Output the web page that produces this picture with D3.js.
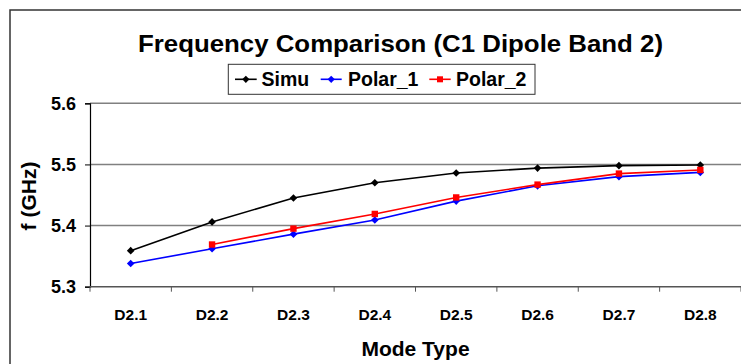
<!DOCTYPE html>
<html>
<head>
<meta charset="utf-8">
<script src="https://cdn.jsdelivr.net/npm/d3@7"></script>
<style>
  html, body { margin: 0; padding: 0; background: #fff; }
  svg { display: block; font-family: "Liberation Sans", Arial, sans-serif; font-weight: bold; }
</style>
</head>
<body>
<script>
// Mode categories along the x axis
const categories = ["D2.1", "D2.2", "D2.3", "D2.4", "D2.5", "D2.6", "D2.7", "D2.8"];
// Resonant frequencies (GHz) per mode
const simu    = [5.359, 5.406, 5.445, 5.470, 5.486, 5.494, 5.498, 5.499];
const polar1  = [5.338, 5.362, 5.386, 5.409, 5.440, 5.465, 5.480, 5.487];
const polar2  = [null,  5.369, 5.395, 5.419, 5.446, 5.467, 5.485, 5.491];
const yTicks  = [5.3, 5.4, 5.5, 5.6];
const seriesNames = ["Simu", "Polar_1", "Polar_2"];

const W = 741, H = 364;
const svg = d3.select("body").append("svg").attr("width", W).attr("height", H);

// chart frame
svg.append("rect").attr("x", 10).attr("y", 10).attr("width", 800).attr("height", 400)
  .attr("fill", "#fff").attr("stroke", "#333").attr("stroke-width", 1.5);

const plot = { left: 90, right: 741, top: 103.3, bottom: 286.7 };

const x = d3.scaleBand().domain(categories).range([plot.left, plot.right]).padding(0);
const y = d3.scaleLinear().domain([5.3, 5.6]).range([plot.bottom, plot.top]);

// horizontal gridlines
svg.append("g").selectAll("line").data(yTicks.filter(v => v > 5.3)).join("line")
  .attr("x1", plot.left).attr("x2", plot.right + 2)
  .attr("y1", d => y(d)).attr("y2", d => y(d))
  .attr("stroke", "#808080").attr("stroke-width", 1.5);

// y axis
const yAxis = d3.axisLeft(y).tickValues(yTicks).tickFormat(d3.format(".1f")).tickSize(5).tickPadding(9);
const gy = svg.append("g").attr("transform", `translate(${plot.left},0)`).call(yAxis);
gy.select(".domain").attr("stroke", "#000").attr("stroke-width", 1.2);
gy.selectAll(".tick line").attr("stroke", "#000");
gy.selectAll(".tick text").attr("font-size", 18).attr("font-family", "Liberation Sans, Arial, sans-serif")
  .attr("font-weight", "bold").attr("fill", "#000");

// x axis with ticks between categories
const gx = svg.append("g").attr("transform", `translate(0,${plot.bottom})`);
gx.append("line").attr("x1", plot.left).attr("x2", plot.right + 2).attr("y1", 0).attr("y2", 0)
  .attr("stroke", "#555").attr("stroke-width", 1.5);
const bounds = categories.map(c => x(c)).concat([x(categories[categories.length - 1]) + x.bandwidth()]);
gx.selectAll("line.tk").data(bounds).join("line").attr("class", "tk")
  .attr("x1", d => d).attr("x2", d => d).attr("y1", 0).attr("y2", 5)
  .attr("stroke", "#555").attr("stroke-width", 1);
gx.selectAll("text").data(categories).join("text")
  .attr("x", d => x(d) + x.bandwidth() / 2).attr("y", 33.5)
  .attr("text-anchor", "middle").attr("font-size", 15.5).attr("fill", "#000").text(d => d);

// axis titles
svg.append("text").attr("x", (plot.left + plot.right) / 2).attr("y", 355.5)
  .attr("text-anchor", "middle").attr("font-size", 21).text("Mode Type");
svg.append("text").attr("transform", "translate(36,196) rotate(-90)")
  .attr("text-anchor", "middle").attr("font-size", 21).text("f (GHz)");

// title
svg.append("text").attr("x", 400.5).attr("y", 51.5).attr("text-anchor", "middle")
  .attr("font-size", 24.5).attr("textLength", 525).attr("lengthAdjust", "spacingAndGlyphs")
  .text("Frequency Comparison (C1 Dipole Band 2)");

const cx = (d, i) => x(categories[i]) + x.bandwidth() / 2;

const series = [
  { name: seriesNames[0], values: simu,   color: "#000000", shape: "diamond" },
  { name: seriesNames[1], values: polar1, color: "#0000ff", shape: "diamond" },
  { name: seriesNames[2], values: polar2, color: "#ff0000", shape: "square" }
];

const line = d3.line().defined(d => d != null).x(cx).y(d => y(d));
const diamondPath = r => `M0,${-r}L${r},0L0,${r}L${-r},0Z`;

series.forEach(s => {
  const g = svg.append("g");
  g.append("path").attr("d", line(s.values)).attr("fill", "none")
    .attr("stroke", s.color).attr("stroke-width", 1.6);
  s.values.forEach((v, i) => {
    if (v == null) return;
    const px = cx(v, i), py = y(v);
    if (s.shape === "diamond") {
      g.append("path").attr("d", diamondPath(3.8)).attr("transform", `translate(${px},${py})`).attr("fill", s.color);
    } else {
      g.append("rect").attr("x", px - 3.2).attr("y", py - 3.2).attr("width", 6.4).attr("height", 6.4).attr("fill", s.color);
    }
  });
});

// legend
const lg = svg.append("g");
lg.append("rect").attr("x", 228.3).attr("y", 64.3).attr("width", 306.7).attr("height", 30)
  .attr("fill", "#fff").attr("stroke", "#333").attr("stroke-width", 1);
const legendItems = [
  { s: series[0], lx1: 235, lx2: 256.7, tx: 261.5 },
  { s: series[1], lx1: 320.7, lx2: 341.7, tx: 348 },
  { s: series[2], lx1: 429.3, lx2: 450.7, tx: 456 }
];
legendItems.forEach(it => {
  const ly = 79.3;
  lg.append("line").attr("x1", it.lx1).attr("x2", it.lx2).attr("y1", ly).attr("y2", ly)
    .attr("stroke", it.s.color).attr("stroke-width", 1.6);
  const mx = (it.lx1 + it.lx2) / 2;
  if (it.s.shape === "diamond") {
    lg.append("path").attr("d", diamondPath(3.6)).attr("transform", `translate(${mx},${ly})`).attr("fill", it.s.color);
  } else {
    lg.append("rect").attr("x", mx - 3).attr("y", ly - 3).attr("width", 6).attr("height", 6).attr("fill", it.s.color);
  }
  lg.append("text").attr("x", it.tx).attr("y", ly + 7).attr("font-size", 19.5).text(it.s.name);
});
</script>
</body>
</html>
